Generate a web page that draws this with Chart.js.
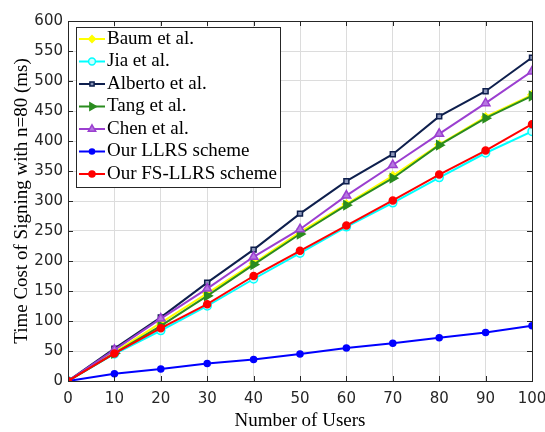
<!DOCTYPE html>
<html>
<head>
<meta charset="utf-8">
<script src="https://cdn.jsdelivr.net/npm/chart.js@4.4.0/dist/chart.umd.min.js"></script>
<style>
  html, body { margin: 0; padding: 0; background: #fff; }
  #wrap { width: 545px; height: 432px; position: relative; }
</style>
</head>
<body>
<div id="wrap"><canvas id="costChart"></canvas></div>
<script>
// Number of users
const users = [0, 10, 20, 30, 40, 50, 60, 70, 80, 90, 100];

// Signing cost (ms) for each scheme
const baum    = [0, 48, 97, 146, 196, 248, 295, 342, 394, 440, 477];
const jia     = [0, 45, 84, 125, 170, 213, 257, 297, 339, 380, 416];
const alberto = [0, 54, 106, 164, 219, 279, 333, 378, 441, 483, 539];
const tang    = [0, 46, 92, 142, 194, 245, 293, 338, 393, 438, 475];
const chen    = [0, 52, 104, 154, 207, 253, 309, 360, 412, 463, 516];
const llrs    = [0, 12, 20, 29, 36, 45, 55, 63, 72, 81, 92];
const fsllrs  = [0, 46, 88, 128, 175, 217, 259, 301, 344, 384, 428];

const yTicks = [0, 50, 100, 150, 200, 250, 300, 350, 400, 450, 500, 550, 600];

const serif = "'Liberation Serif', 'Times New Roman', serif";
const tickFont = "'DejaVu Sans', sans-serif";

function series(label, data, color, fill, style, radius, rot, order) {
    return {
        label: label,
        data: data.map((v, i) => ({ x: users[i], y: v })),
        borderColor: color,
        backgroundColor: color,
        pointBackgroundColor: fill,
        pointBorderColor: color,
        pointBorderWidth: 1.5,
        pointStyle: style,
        pointRadius: radius,
        pointRotation: rot,
        borderWidth: 2,
        tension: 0,
        order: order
    };
}

const datasets = [
    series('Baum et al.', baum, '#ffff00', '#ffff00', 'rectRot', 4, 0, 7),
    series('Jia et al.', jia, '#00ffff', '#ccffff', 'circle', 4, 0, 6),
    series('Alberto et al.', alberto, '#0e1f4d', '#8a95b8', 'rect', 3.5, 0, 5),
    series('Tang et al.', tang, '#2a8c1f', '#2a8c1f', 'triangle', 5, 90, 4),
    series('Chen et al.', chen, '#9b3fd0', '#b577e0', 'triangle', 5, 0, 3),
    series('Our LLRS scheme', llrs, '#0000ff', '#0000ff', 'circle', 3, 0, 2),
    series('Our FS-LLRS scheme', fsllrs, '#ff0000', '#ff0000', 'circle', 3.5, 0, 1)
];

// legend box drawn inside the plot, MATLAB style
const insideLegend = {
    id: 'insideLegend',
    afterDraw(chart) {
        const ctx = chart.ctx;
        const x0 = 76, y0 = 27, w = 204, h = 160;
        ctx.save();
        ctx.fillStyle = '#fff';
        ctx.fillRect(x0, y0, w, h);
        ctx.strokeStyle = '#262626';
        ctx.lineWidth = 1;
        ctx.strokeRect(x0 + 0.5, y0 + 0.5, w, h);
        ctx.font = '19px ' + serif;
        ctx.textBaseline = 'middle';
        chart.data.datasets.forEach((ds, i) => {
            const cy = y0 + 12 + i * 22.5;
            ctx.strokeStyle = ds.borderColor;
            ctx.lineWidth = 2;
            ctx.beginPath();
            ctx.moveTo(x0 + 3, cy);
            ctx.lineTo(x0 + 29, cy);
            ctx.stroke();
            ctx.fillStyle = ds.pointBackgroundColor;
            ctx.lineWidth = 1.5;
            Chart.helpers.drawPoint(ctx, {
                pointStyle: ds.pointStyle,
                rotation: ds.pointRotation,
                radius: ds.pointRadius * 0.85,
                borderWidth: 1.5
            }, x0 + 16, cy);
            ctx.fillStyle = '#000';
            ctx.fillText(ds.label, x0 + 31, cy);
        });
        ctx.restore();
    }
};

// frame around the plot area with inward ticks
const frame = {
    id: 'frame',
    afterDatasetsDraw(chart) {
        const { ctx, chartArea: a, scales } = chart;
        ctx.save();
        ctx.strokeStyle = '#262626';
        ctx.lineWidth = 1;
        ctx.beginPath();
        users.forEach(u => {
            const px = Math.round(scales.x.getPixelForValue(u)) + 0.5;
            ctx.moveTo(px, a.bottom); ctx.lineTo(px, a.bottom - 5);
            ctx.moveTo(px, a.top); ctx.lineTo(px, a.top + 5);
        });
        yTicks.forEach(t => {
            const py = Math.round(scales.y.getPixelForValue(t)) + 0.5;
            ctx.moveTo(a.left, py); ctx.lineTo(a.left + 5, py);
            ctx.moveTo(a.right, py); ctx.lineTo(a.right - 5, py);
        });
        ctx.stroke();
        ctx.strokeRect(Math.round(a.left) + 0.5, Math.round(a.top) + 0.5,
            Math.round(a.right - a.left), Math.round(a.bottom - a.top));
        ctx.restore();
    }
};

new Chart(document.getElementById('costChart'), {
    type: 'line',
    data: { datasets: datasets },
    plugins: [frame, insideLegend],
    options: {
        responsive: true,
        maintainAspectRatio: false,
        animation: false,
        layout: { padding: { top: 21, right: 13, left: 11, bottom: 0 } },
        plugins: {
            legend: { display: false },
            tooltip: { enabled: false }
        },
        scales: {
            x: {
                type: 'linear',
                min: 0,
                max: 100,
                afterBuildTicks: s => { s.ticks = users.map(v => ({ value: v })); },
                afterFit: s => { s.height = 51; s.paddingLeft = 0; s.paddingRight = 0; },
                grid: { color: '#dcdcdc', drawTicks: false },
                border: { display: false },
                ticks: { color: '#262626', padding: 9, font: { size: 15, family: tickFont } },
                title: { display: true, text: 'Number of Users', color: '#000',
                         padding: { top: 0, bottom: 0 }, font: { size: 19, family: serif } }
            },
            y: {
                min: 0,
                max: 600,
                afterBuildTicks: s => { s.ticks = yTicks.map(v => ({ value: v })); },
                afterFit: s => { s.width = 57; s.paddingTop = 0; s.paddingBottom = 0; },
                grid: { color: '#dcdcdc', drawTicks: false },
                border: { display: false },
                ticks: { color: '#262626', padding: 5, font: { size: 15, family: tickFont } },
                title: { display: true, text: 'Time Cost of Signing with n=80 (ms)', color: '#000',
                         padding: { top: 0, bottom: 0 }, font: { size: 19, family: serif } }
            }
        }
    }
});
</script>
</body>
</html>
